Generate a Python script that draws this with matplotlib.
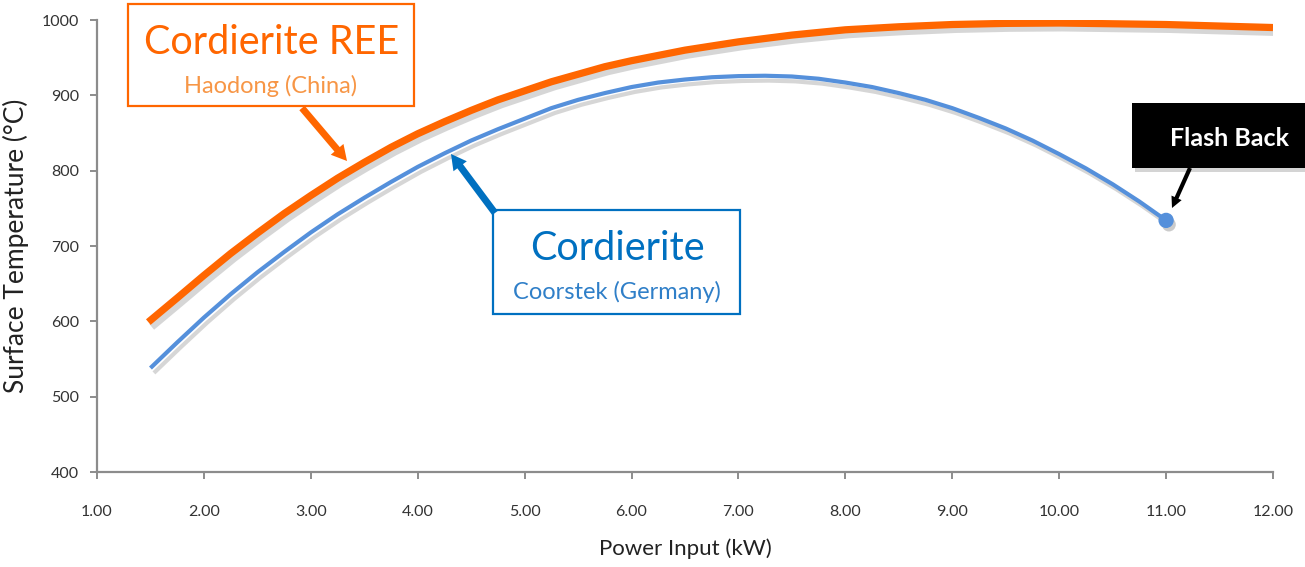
import matplotlib
matplotlib.use("Agg")
import matplotlib.pyplot as plt
import matplotlib.patheffects as pe
from matplotlib.patches import Rectangle, FancyArrowPatch, ArrowStyle

# ---- data ----
power_ree = [1.48, 1.75, 2.0, 2.25, 2.5, 2.75, 3.0, 3.25, 3.5, 3.75, 4.0, 4.25, 4.5, 4.75, 5.0, 5.25,
             5.5, 5.75, 6.0, 6.5, 7.0, 7.5, 8.0, 8.5, 9.0, 9.5, 10.0, 10.5, 11.0, 11.5, 12.0]
temp_ree = [599, 631, 661, 690, 717, 743, 767, 790, 811, 831, 849, 865, 880, 894, 906, 918,
            928, 938, 946, 960, 971, 980, 987, 991, 994, 995.5, 996, 995, 994, 992, 990]

power_cord = [1.5, 1.75, 2.0, 2.25, 2.5, 2.75, 3.0, 3.25, 3.5, 3.75, 4.0, 4.25, 4.5, 4.75, 5.0, 5.25,
              5.5, 5.75, 6.0, 6.25, 6.5, 6.75, 7.0, 7.25, 7.5, 7.75, 8.0, 8.25, 8.5, 8.75, 9.0, 9.25,
              9.5, 9.75, 10.0, 10.25, 10.5, 10.75, 11.0]
temp_cord = [538, 572, 605, 636, 665, 692, 718, 742, 764, 785, 805, 823, 840, 855, 869, 883,
             894, 903, 911, 917, 921, 924, 925.5, 926, 925, 922, 917, 911, 903, 894, 883, 870,
             856, 840, 822, 803, 782, 759, 734]

flash_power = [11.0]
flash_temp = [734]

x_ticks = [1.0, 2.0, 3.0, 4.0, 5.0, 6.0, 7.0, 8.0, 9.0, 10.0, 11.0, 12.0]
y_ticks = [400, 500, 600, 700, 800, 900, 1000]

plt.rcParams['font.family'] = ['Lato', 'DejaVu Sans']

W, H = 1305, 567
fig = plt.figure(figsize=(W / 100, H / 100), dpi=100)
ax = fig.add_axes([97 / W, 1 - 472 / H, 1176 / W, 452 / H])

ORANGE = '#FF6600'
LBLUE = '#5590DB'
DBLUE = '#0070C0'
GRAY = '#8C8C8C'

shadow = [pe.SimpleLineShadow(offset=(2.5, -3.5), shadow_color='#9a9a9a', alpha=0.4), pe.Normal()]

ax.plot(power_ree, temp_ree, color=ORANGE, lw=5.2, solid_capstyle='butt', solid_joinstyle='round',
        path_effects=shadow, zorder=3)
ax.plot(power_cord, temp_cord, color=LBLUE, lw=3.0, solid_capstyle='butt', solid_joinstyle='round',
        path_effects=shadow, zorder=3)
ax.plot(flash_power, flash_temp, 'o', color=LBLUE, ms=10, zorder=4,
        path_effects=[pe.SimplePatchShadow(offset=(2, -3), shadow_rgbFace='#999999', alpha=0.5), pe.Normal()])

ax.set_xlim(1, 12)
ax.set_ylim(400, 1000)
ax.set_xticks(x_ticks)
ax.set_xticklabels([f"{v:.2f}" for v in x_ticks])
ax.set_yticks(y_ticks)
ax.set_yticklabels([str(v) for v in y_ticks])
for s in ['top', 'right']:
    ax.spines[s].set_visible(False)
for s in ['left', 'bottom']:
    ax.spines[s].set_color(GRAY)
    ax.spines[s].set_linewidth(1.6)
ax.tick_params(axis='both', colors=GRAY, length=5, width=1.4, labelcolor='#333333', labelsize=11.5)
ax.tick_params(axis='x', pad=19)
ax.tick_params(axis='y', pad=8)

ax.set_xlabel('Power Input (kW)', fontsize=16, color='#222222', labelpad=14)
ax.set_ylabel('Surface Temperature (°C)', fontsize=19, color='#222222', labelpad=9)


def fx(px):
    return px / W


def fy(py):
    return 1 - py / H


# Orange box
fig.add_artist(Rectangle((fx(128), fy(106)), (414 - 128) / W, (106 - 4) / H, transform=fig.transFigure,
                         fill=True, facecolor='white', edgecolor=ORANGE, lw=1.6, zorder=5))
fig.text(fx(272), fy(43), 'Cordierite REE', color=ORANGE, fontsize=28.5, ha='center', va='center', zorder=6)
fig.text(fx(271), fy(86), 'Haodong (China)', color='#F79646', fontsize=17, ha='center', va='center', zorder=6)
fig.add_artist(FancyArrowPatch((fx(302), fy(108)), (fx(347), fy(161)), transform=fig.transFigure,
                               arrowstyle=ArrowStyle.Simple(head_length=11, head_width=12, tail_width=5),
                               mutation_scale=1, color=ORANGE, lw=0, zorder=5, shrinkA=0, shrinkB=0))

# Blue box
fig.add_artist(Rectangle((fx(493), fy(314)), (740 - 493) / W, (314 - 210) / H, transform=fig.transFigure,
                         fill=True, facecolor='white', edgecolor=DBLUE, lw=1.6, zorder=5))
fig.text(fx(617), fy(248), 'Cordierite', color=DBLUE, fontsize=28.5, ha='center', va='center', zorder=6)
fig.text(fx(617), fy(292), 'Coorstek (Germany)', color='#2F7FC8', fontsize=17, ha='center', va='center', zorder=6)
fig.add_artist(FancyArrowPatch((fx(495), fy(213)), (fx(451), fy(154)), transform=fig.transFigure,
                               arrowstyle=ArrowStyle.Simple(head_length=11, head_width=12, tail_width=5),
                               mutation_scale=1, color=DBLUE, lw=0, zorder=5, shrinkA=0, shrinkB=0))

# Flash Back box
fig.add_artist(Rectangle((fx(1135), fy(172)), (1305 - 1135) / W, (172 - 106) / H, transform=fig.transFigure,
                         facecolor='#aaaaaa', edgecolor='none', alpha=0.5, zorder=4))
fig.add_artist(Rectangle((fx(1132), fy(168)), (1305 - 1132) / W, (168 - 103) / H, transform=fig.transFigure,
                         facecolor='black', edgecolor='none', zorder=5))
fig.text(fx(1229), fy(138), 'Flash Back', color='white', fontsize=18, fontweight='bold',
         ha='center', va='center', zorder=6)
fig.add_artist(FancyArrowPatch((fx(1190), fy(168)), (fx(1172), fy(208)), transform=fig.transFigure,
                               arrowstyle=ArrowStyle.Simple(head_length=8, head_width=8, tail_width=3),
                               mutation_scale=1, color='black', lw=0, zorder=5, shrinkA=0, shrinkB=0))

fig.savefig('out.png', dpi=100, facecolor='white')
